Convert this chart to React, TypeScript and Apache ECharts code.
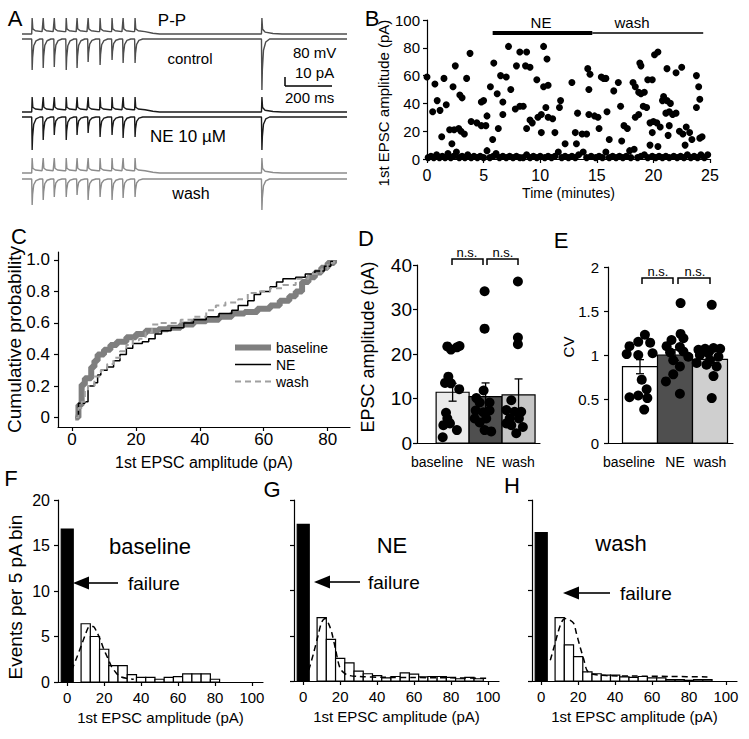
import React, { useEffect, useRef } from "react";
import * as echarts from "echarts";

const FONT = "'Liberation Sans', Arial, Helvetica, sans-serif";

// ---------------- Panel A: example traces ----------------
const stimTimesMs = [44, 93, 142, 195, 243, 292, 345, 398, 447, 500, 1062];
const traceEndMs = 1440;
const ppAmpControl = [16, 16, 16, 16, 16, 16, 16, 16, 16, 16, 16];
const ppAmpNE = [15, 15, 15, 15, 15, 15, 15, 15, 15, 15, 15];
const ppAmpWash = [15, 15, 15, 15, 15, 15, 15, 15, 15, 15, 15];
const epscAmpControl = [31, 29, 28, 31, 29, 23, 26, 21, 24, 24, 51];
const epscAmpNE = [33, 23, 18, 23, 18, 16, 20, 18, 21, 20, 33];
const epscAmpWash = [26, 21, 18, 18, 16, 21, 18, 21, 19, 18, 31];
const epscShape = [[-1, 0], [1, -1], [3, -0.6], [8, -0.22], [18, -0.06], [35, 0]];
const ppTrainShape = [[-1, 0.15], [1, 1], [4, 0.32], [15, 0.2], [45, 0.15]];
const ppTailShape = [[80, 0.05], [110, 0]];
const ppSingleShape = [[-1, 0], [1, 1], [4, 0.3], [15, 0.12], [50, 0.03], [90, 0]];

// ---------------- Panel B: time course ----------------
const bHits = [
  [0, 59], [0.5, 34], [0.7, 54], [0.9, 42], [1.15, 35], [1.3, 16], [1.5, 58], [1.7, 39], [2.0, 21], [2.2, 11],
  [2.3, 52], [2.5, 67], [2.4, 21], [2.8, 22], [2.9, 46], [3.1, 44], [3.0, 20], [3.3, 18], [3.5, 58], [3.8, 76],
  [3.9, 27], [4.4, 26], [4.8, 24], [5.2, 24], [4.8, 41], [5.0, 42], [5.3, 31], [5.6, 52], [5.8, 14], [5.9, 69],
  [6.2, 47], [6.3, 22], [6.5, 60], [6.7, 32], [6.7, 41], [7.0, 59], [7.2, 81], [7.4, 50], [7.8, 36], [8.2, 38],
  [8.5, 38], [7.9, 67], [8.2, 77], [8.8, 77], [8.7, 67], [9.1, 66], [8.8, 22], [9.1, 28], [9.3, 26], [9.7, 57],
  [9.8, 30], [10.1, 32], [10.1, 19], [10.3, 81], [10.3, 52], [10.6, 72], [10.7, 53], [10.5, 37], [10.7, 30], [11.1, 29],
  [11.3, 19], [11.7, 37], [11.8, 42], [12.2, 11], [12.8, 55], [13.1, 19], [13.2, 11], [13.3, 33], [13.7, 18], [14.1, 18],
  [14.2, 65], [14.4, 61], [14.3, 50], [14.3, 32], [14.8, 31], [15.1, 30], [15.2, 22], [15.4, 59], [15.6, 58], [15.8, 58],
  [15.9, 34], [16.1, 14], [16.5, 49], [16.9, 55], [17.1, 38], [17.2, 13], [17.4, 24], [17.7, 22], [17.9, 6], [18.2, 55],
  [18.4, 30], [18.7, 32], [18.4, 52], [18.7, 48], [18.9, 47], [19.2, 48], [18.8, 69], [18.9, 67], [19.1, 38], [19.4, 37],
  [19.5, 57], [19.7, 26], [19.7, 10], [20.1, 75], [20.4, 77], [19.9, 57], [19.9, 19], [20.0, 27], [20.3, 26], [20.6, 23],
  [20.4, 9], [20.8, 42], [20.9, 45], [21.2, 42], [21.5, 40], [21.2, 65], [21.1, 33], [21.4, 34], [21.7, 32], [22.0, 33],
  [21.4, 24], [21.3, 17], [22.0, 62], [22.5, 66], [22.3, 20], [22.6, 18], [22.8, 10], [22.9, 23], [23.2, 19], [23.4, 14],
  [23.8, 60], [24.0, 52], [24.1, 43], [23.8, 37], [24.1, 15], [24.3, 16]
];
const bFailures = [
  [0.1, 1], [0.35, 2], [0.6, 1], [0.85, 3], [1.1, 1], [1.35, 2], [1.6, 1], [1.85, 4], [2.1, 1], [2.35, 2],
  [2.6, 5], [2.85, 1], [3.1, 2], [3.35, 1], [3.6, 3], [3.9, 1], [4.15, 2], [4.45, 1], [4.7, 2], [5.0, 1],
  [5.3, 6], [5.55, 1], [5.85, 2], [6.1, 4], [6.4, 1], [6.7, 2], [7.0, 1], [7.3, 2], [7.6, 1], [7.9, 2],
  [8.2, 1], [8.5, 1], [8.8, 3], [9.1, 1], [9.4, 2], [9.7, 1], [10.0, 2], [10.4, 1], [10.7, 2], [11.0, 1],
  [11.3, 2], [11.6, 5], [11.9, 1], [12.2, 2], [12.5, 1], [12.8, 2], [13.1, 1], [13.4, 3], [13.8, 5], [14.1, 1],
  [14.5, 2], [14.9, 1], [15.2, 2], [15.5, 1], [15.8, 5], [16.1, 1], [16.4, 2], [16.7, 1], [17.0, 2], [17.3, 1],
  [17.6, 2], [18.0, 1], [18.3, 7], [18.6, 1], [18.9, 2], [19.2, 3], [19.5, 1], [19.9, 2], [20.2, 1], [20.5, 2],
  [20.8, 1], [21.1, 2], [21.4, 1], [21.8, 2], [22.1, 1], [22.4, 2], [22.7, 1], [23.0, 3], [23.3, 1], [23.6, 2],
  [23.9, 1], [24.2, 3], [24.5, 1], [24.8, 3]
];
const neWindowMin = [5.8, 14.6];
const washWindowMin = [14.6, 24.4];
const drugBarLevel = 91;

// ---------------- Panel C: cumulative distributions ----------------
const cdfBaseline = [
  [1, 0], [2, 0.08], [3, 0.21], [4, 0.25], [6, 0.32], [7, 0.36], [8, 0.4], [10, 0.43], [12, 0.46], [14, 0.48],
  [17, 0.51], [20, 0.53], [23, 0.55], [27, 0.56], [30, 0.57], [34, 0.59], [38, 0.61], [42, 0.62], [46, 0.64], [50, 0.66],
  [54, 0.67], [58, 0.69], [62, 0.71], [65, 0.74], [68, 0.77], [70, 0.8], [72, 0.86], [74, 0.89], [76, 0.92], [78, 0.95],
  [80, 0.98], [82, 1.0]
];
const cdfNE = [
  [1, 0], [2, 0.09], [4, 0.1], [5, 0.2], [7, 0.22], [8, 0.27], [9, 0.3], [11, 0.32], [13, 0.36], [15, 0.4],
  [17, 0.44], [19, 0.47], [22, 0.48], [24, 0.5], [26, 0.53], [28, 0.55], [31, 0.57], [35, 0.6], [38, 0.62], [42, 0.64],
  [46, 0.66], [50, 0.68], [52, 0.71], [55, 0.74], [57, 0.78], [59, 0.8], [62, 0.83], [64, 0.86], [66, 0.88], [70, 0.89],
  [73, 0.91], [76, 0.93], [79, 0.96], [81, 0.99], [82, 1.0]
];
const cdfWash = [
  [1, 0], [2, 0.06], [3, 0.1], [4, 0.17], [5, 0.2], [7, 0.26], [9, 0.3], [11, 0.34], [13, 0.38], [15, 0.42],
  [17, 0.46], [19, 0.49], [21, 0.5], [23, 0.54], [25, 0.59], [27, 0.6], [30, 0.6], [34, 0.62], [38, 0.64], [42, 0.68],
  [45, 0.71], [48, 0.73], [52, 0.75], [55, 0.79], [58, 0.8], [62, 0.82], [66, 0.84], [70, 0.88], [74, 0.91], [78, 0.94],
  [80, 0.98], [82, 1.0]
];
const cTicks = [0, 0.2, 0.4, 0.6, 0.8, 1.0];
const ampTicks = [0, 20, 40, 60, 80];

// ---------------- Panels D & E ----------------
const conditions = ["baseline", "NE", "wash"];
const dMeans = [11.4, 10.4, 10.8];
const dSem = [2.0, 3.1, 3.6];
const dBaseline = [21.7, 21.0, 21.5, 21.8, 14.9, 13.5, 13.4, 12.1, 6.8, 5.5, 4.4, 4.0, 2.9, 1.3];
const dBaselineDx = [-0.16, -0.05, 0.13, 0.21, -0.13, -0.23, -0.05, 0.2, -0.2, -0.16, -0.08, -0.28, 0.13, -0.3];
const dNE = [34.1, 25.7, 11.8, 10.1, 9.1, 9.1, 7.3, 6.9, 7.3, 5.5, 5.5, 4.6, 2.9, 2.6];
const dNEDx = [-0.03, -0.03, -0.06, -0.28, -0.18, 0.12, -0.3, -0.07, 0.12, -0.33, 0.02, -0.18, -0.03, 0.17];
const dWash = [36.3, 23.7, 22.2, 9.6, 7.4, 7.0, 7.0, 5.5, 5.5, 4.4, 4.0, 3.6, 2.2];
const dWashDx = [-0.02, -0.02, -0.02, -0.22, -0.37, -0.12, 0.08, -0.27, 0.01, -0.37, -0.22, 0.13, -0.07];

const eMeans = [0.867, 1.0, 0.951];
const eSem = [0.08, 0.06, 0.07];
const eBaseline = [1.23, 1.15, 1.14, 1.1, 1.02, 1.01, 1.0, 0.61, 0.54, 0.52, 0.51, 0.38, 0.72];
const eBaselineDx = [0.14, -0.05, 0.29, -0.3, 0.36, -0.38, -0.05, 0.19, -0.05, -0.3, 0.21, 0.12, 0.05];
const eNE = [1.59, 1.24, 1.17, 1.19, 1.1, 1.09, 1.03, 1.04, 0.98, 0.94, 0.87, 0.78, 0.7, 0.56];
const eNEDx = [0.16, 0.16, -0.1, 0.24, -0.24, 0.14, -0.14, 0.24, 0.38, -0.05, 0.14, -0.05, -0.26, 0.14];
const eWash = [1.57, 1.07, 1.08, 1.07, 1.06, 1.02, 1.0, 0.98, 0.94, 0.91, 0.89, 0.87, 0.76, 0.51];
const eWashDx = [0.05, -0.14, 0.1, 0.29, -0.33, -0.05, -0.29, 0.24, 0, -0.38, -0.1, 0.19, 0.1, 0.05];

// ---------------- Panels F, G, H: histograms ----------------
const binWidthPa = 5;
const failureWidthPa = 6.5;
const histCentersF = [10, 15, 20, 25, 30, 35, 40, 45, 50, 55, 60, 65, 70, 75, 80];
const histCountsF = [6.4, 5.0, 3.6, 1.8, 1.8, 0.8, 0.5, 0.5, 0.3, 0.5, 0.6, 0.9, 0.9, 0.9, 0.3];
const histCentersG = [10, 15, 20, 25, 30, 35, 40, 45, 50, 55, 60, 65, 70, 75, 80, 85, 90, 95];
const histCountsG = [7.0, 4.6, 2.5, 2.0, 1.1, 0.8, 0.6, 0.35, 0.5, 0.9, 0.75, 0.45, 0.5, 0.5, 0.4, 0.25, 0.4, 0.25];
const histCentersH = [10, 15, 20, 25, 30, 35, 40, 45, 50, 55, 60, 65, 70, 75, 80, 85, 90];
const histCountsH = [7.0, 4.0, 2.7, 1.0, 0.8, 0.65, 0.65, 0.45, 0.4, 0.5, 0.35, 0.35, 0.15, 0.15, 0.08, 0.15, 0.15];
const failuresF = 16.8;
const failuresG = 17.3;
const failuresH = 16.4;
const fitF = [[2.4, 1.3], [5, 2.6], [7.8, 4.1], [10, 5.3], [12, 6.1], [14, 6.1], [16, 5.5], [18, 4.6], [19.6, 3.7], [22, 2.6], [24, 1.7], [26.5, 1.0], [28.6, 0.6], [32, 0.4], [36, 0.3]];
const fitG = [[3, 1.2], [5.5, 3.0], [8, 5.0], [10, 6.5], [12, 6.9], [14, 6.2], [15.5, 5.3], [17.5, 3.5], [20, 1.4], [23.5, 0.7], [30, 0.5], [45, 0.4], [60, 0.38], [80, 0.35], [100, 0.3]];
const fitH = [[4.9, 2.3], [7, 3.8], [9, 5.3], [11, 6.5], [13, 6.9], [15, 6.8], [17.5, 6.4], [19, 5.3], [21, 3.8], [23, 2.4], [24.7, 1.2], [27, 0.8], [35, 0.6], [50, 0.55], [70, 0.5], [90, 0.45]];
const histTicks = [0, 20, 40, 60, 80, 100];

// ---------------- helpers ----------------
function buildEpsc(amps: number[]) {
  const pts: number[][] = [[0, 0]];
  stimTimesMs.forEach((t, i) => epscShape.forEach(([dt, f]) => pts.push([t + dt, amps[i] * f])));
  pts.push([traceEndMs, 0]);
  return pts;
}
function buildPP(amps: number[]) {
  const pts: number[][] = [[0, 0]];
  const n = stimTimesMs.length;
  for (let i = 0; i < n - 1; i++) {
    const t = stimTimesMs[i];
    const a = amps[i];
    ppTrainShape.forEach(([dt, f], k) => pts.push([t + dt, i === 0 && k === 0 ? 0 : a * f]));
  }
  const tl = stimTimesMs[n - 2];
  ppTailShape.forEach(([dt, f]) => pts.push([tl + dt, amps[n - 2] * f]));
  const ts = stimTimesMs[n - 1];
  ppSingleShape.forEach(([dt, f]) => pts.push([ts + dt, amps[n - 1] * f]));
  pts.push([traceEndMs, 0]);
  return pts;
}

const AX = { color: "#000", width: 1.2 };

function rectItem(halfW: number, fills: string[] | string) {
  return (params: any, api: any) => {
    const c = api.value(0);
    const h = api.value(1);
    const a = api.coord([c - halfW, 0]);
    const b = api.coord([c + halfW, h]);
    const fill = Array.isArray(fills) ? fills[params.dataIndex] : fills;
    return {
      type: "rect",
      shape: { x: a[0], y: b[1], width: b[0] - a[0], height: a[1] - b[1] },
      style: { fill, stroke: "#000", lineWidth: 1.2 },
    };
  };
}
function errItem(cap: number) {
  return (params: any, api: any) => {
    const x = api.value(0);
    const m = api.value(1);
    const s = api.value(2);
    const top = api.coord([x, m + s]);
    const bot = api.coord([x, m - s]);
    const st = { stroke: "#000", lineWidth: 1.3 };
    return {
      type: "group",
      children: [
        { type: "line", shape: { x1: top[0], y1: top[1], x2: bot[0], y2: bot[1] }, style: st },
        { type: "line", shape: { x1: top[0] - cap, y1: top[1], x2: top[0] + cap, y2: top[1] }, style: st },
        { type: "line", shape: { x1: bot[0] - cap, y1: bot[1], x2: bot[0] + cap, y2: bot[1] }, style: st },
      ],
    };
  };
}
function jitter(vals: number[], dx: number[], base: number) {
  return vals.map((v, k) => [base + dx[k], v]);
}
function txt(text: string, x: number, y: number, size: number, align = "center") {
  return {
    type: "text",
    x,
    y,
    silent: true,
    style: {
      text,
      font: `${size}px ${FONT}`,
      fill: "#000",
      textAlign: align,
      align,
      textVerticalAlign: "middle",
      verticalAlign: "middle",
    },
  };
}
function seg(x1: number, y1: number, x2: number, y2: number, w = 1.4) {
  return { type: "line", silent: true, shape: { x1, y1, x2, y2 }, style: { stroke: "#000", lineWidth: w } };
}
function bracket(x1: number, x2: number, top: number, bottom: number) {
  return {
    type: "polyline",
    silent: true,
    shape: { points: [[x1, bottom], [x1, top], [x2, top], [x2, bottom]] },
    style: { stroke: "#000", lineWidth: 1.5, fill: null },
  };
}
function arrow(tipX: number, baseX: number, endX: number, y: number) {
  return [
    seg(baseX, y, endX, y, 1.6),
    {
      type: "polygon",
      silent: true,
      shape: { points: [[tipX, y], [baseX, y - 6.5], [baseX, y + 6.5]] },
      style: { fill: "#000" },
    },
  ];
}

function buildOption() {
  const gridDefs = [
    { left: 22, top: 14, width: 325, height: 24 },
    { left: 22, top: 35, width: 325, height: 60 },
    { left: 22, top: 92, width: 325, height: 24 },
    { left: 22, top: 113, width: 325, height: 42 },
    { left: 22, top: 153, width: 325, height: 24 },
    { left: 22, top: 175, width: 325, height: 40 },
    { left: 427, top: 20, width: 283, height: 139 },
    { left: 58, top: 252, width: 292, height: 175 },
    { left: 417, top: 265, width: 123, height: 178 },
    { left: 608, top: 267, width: 125, height: 176 },
    { left: 58, top: 500, width: 205, height: 182 },
    { left: 294, top: 500, width: 205, height: 181 },
    { left: 532, top: 500, width: 205, height: 181 },
  ];
  const grid = gridDefs.map((g) => ({ ...g, outerBoundsMode: "none", containLabel: false }));
  const traceY = [[-4, 20], [-56, 4], [-4, 20], [-38, 4], [-4, 20], [-36, 4]];

  const xAxis: any[] = [];
  const yAxis: any[] = [];
  for (let i = 0; i < 6; i++) {
    xAxis.push({ type: "value", gridIndex: i, min: 0, max: traceEndMs, show: false });
    yAxis.push({ type: "value", gridIndex: i, min: traceY[i][0], max: traceY[i][1], show: false });
  }
  const base = () => ({
    axisLine: { show: true, onZero: false, lineStyle: AX },
    splitLine: { show: false },
    nameMoveOverlap: false,
  });
  // B
  xAxis.push({
    ...base(), type: "value", gridIndex: 6, min: 0, max: 25, interval: 5,
    axisTick: { show: true, length: 4, lineStyle: AX },
    axisLabel: { color: "#000", fontSize: 16, fontFamily: FONT, margin: 8 },
    name: "Time (minutes)", nameLocation: "middle", nameGap: 27,
    nameTextStyle: { color: "#000", fontSize: 14, fontFamily: FONT },
  });
  yAxis.push({
    ...base(), type: "value", gridIndex: 6, min: 0, max: 100, interval: 20,
    axisTick: { show: true, length: 4, lineStyle: AX },
    axisLabel: { color: "#000", fontSize: 15, fontFamily: FONT, margin: 7 },
    name: "1st EPSC amplitude (pA)", nameLocation: "middle", nameGap: 36,
    nameTextStyle: { color: "#000", fontSize: 15, fontFamily: FONT, padding: [0, 27, 0, 0] },
  });
  // C
  xAxis.push({
    ...base(), type: "value", gridIndex: 7, min: -4.4, max: 87,
    axisTick: { show: true, length: 4, lineStyle: AX, customValues: ampTicks },
    axisLabel: { color: "#000", fontSize: 17, fontFamily: FONT, margin: 4, customValues: ampTicks },
    name: "1st EPSC amplitude (pA)", nameLocation: "middle", nameGap: 27,
    nameTextStyle: { color: "#000", fontSize: 16, fontFamily: FONT },
  });
  yAxis.push({
    ...base(), type: "value", gridIndex: 7, min: -0.06, max: 1.05,
    axisTick: { show: true, length: 4, lineStyle: AX, customValues: cTicks },
    axisLabel: {
      color: "#000", fontSize: 17, fontFamily: FONT, margin: 8, customValues: cTicks,
      formatter: (v: number) => (v === 0 ? "0" : v.toFixed(1)),
    },
    name: "Cumulative probability", nameLocation: "middle", nameGap: 34,
    nameTextStyle: { color: "#000", fontSize: 19, fontFamily: FONT },
  });
  // D
  const catFormatter = (v: number) => {
    const i = Math.round(v);
    return i === 0 ? "{s|" + conditions[0] + "}" : conditions[i];
  };
  xAxis.push({
    ...base(), type: "value", gridIndex: 8, min: -1.08, max: 2.65,
    axisTick: { show: false },
    axisLabel: {
      color: "#000", fontSize: 14, fontFamily: FONT, margin: 12, customValues: [0, 1, 2],
      formatter: catFormatter,
      rich: { s: { color: "#000", fontSize: 14, fontFamily: FONT, padding: [0, 31, 0, 0] } },
    },
  });
  yAxis.push({
    ...base(), type: "value", gridIndex: 8, min: 0, max: 40, interval: 10,
    axisTick: { show: true, length: 4, lineStyle: AX },
    axisLabel: { color: "#000", fontSize: 19, fontFamily: FONT, margin: 5 },
    name: "EPSC amplitude (pA)", nameLocation: "middle", nameGap: 40,
    nameTextStyle: { color: "#000", fontSize: 18, fontFamily: FONT, padding: [0, 0, 0, 14] },
  });
  // E
  xAxis.push({
    ...base(), type: "value", gridIndex: 9, min: -0.914, max: 2.657,
    axisTick: { show: false },
    axisLabel: {
      color: "#000", fontSize: 14, fontFamily: FONT, margin: 12, customValues: [0, 1, 2],
      formatter: catFormatter,
      rich: { s: { color: "#000", fontSize: 14, fontFamily: FONT, padding: [0, 22, 0, 0] } },
    },
  });
  yAxis.push({
    ...base(), type: "value", gridIndex: 9, min: 0, max: 2, interval: 0.5,
    axisTick: { show: true, length: 4, lineStyle: AX },
    axisLabel: { color: "#000", fontSize: 15, fontFamily: FONT, margin: 9 },
    name: "CV", nameLocation: "middle", nameGap: 32,
    nameTextStyle: { color: "#000", fontSize: 15, fontFamily: FONT, padding: [0, 0, 0, 16] },
  });
  // F, G, H
  for (let k = 0; k < 3; k++) {
    const gi = 10 + k;
    xAxis.push({
      ...base(), type: "value", gridIndex: gi, min: -5, max: 106,
      axisTick: { show: true, length: 4, lineStyle: AX, customValues: histTicks },
      axisLabel: { color: "#000", fontSize: 15, fontFamily: FONT, margin: 8, customValues: histTicks },
      name: "1st EPSC amplitude (pA)", nameLocation: "middle", nameGap: 28,
      nameTextStyle: { color: "#000", fontSize: 15, fontFamily: FONT },
    });
    yAxis.push({
      ...base(), type: "value", gridIndex: gi, min: 0, max: 20, interval: 5,
      axisTick: { show: true, length: 4, lineStyle: AX },
      axisLabel: { show: k === 0, color: "#000", fontSize: 16, fontFamily: FONT, margin: 8 },
      ...(k === 0
        ? {
            name: "Events per 5 pA bin", nameLocation: "middle", nameGap: 33,
            nameTextStyle: { color: "#000", fontSize: 19, fontFamily: FONT, padding: [0, 12, 0, 0] },
          }
        : {}),
    });
  }

  const traceColors = ["#4d4d4d", "#1a1a1a", "#8c8c8c"];
  const traceData = [
    buildPP(ppAmpControl), buildEpsc(epscAmpControl),
    buildPP(ppAmpNE), buildEpsc(epscAmpNE),
    buildPP(ppAmpWash), buildEpsc(epscAmpWash),
  ];
  const series: any[] = traceData.map((d, i) => ({
    type: "line", xAxisIndex: i, yAxisIndex: i, data: d, symbol: "none", silent: true,
    lineStyle: { color: traceColors[Math.floor(i / 2)], width: 1.4 },
  }));

  const dot = { color: "#000", opacity: 1 };
  // B
  series.push({
    type: "scatter", xAxisIndex: 6, yAxisIndex: 6, data: bFailures, symbolSize: 7,
    itemStyle: dot, silent: true, clip: false,
  });
  series.push({
    type: "scatter", xAxisIndex: 6, yAxisIndex: 6, data: bHits, symbolSize: 7,
    itemStyle: dot, silent: true, clip: false,
    markLine: {
      silent: true, symbol: ["none", "none"], label: { show: false }, animation: false,
      lineStyle: { type: "solid", color: "#000" },
      data: [
        [
          { coord: [neWindowMin[0], drugBarLevel], lineStyle: { width: 4, type: "solid", color: "#000" } },
          { coord: [neWindowMin[1], drugBarLevel], lineStyle: { width: 4, type: "solid", color: "#000" } },
        ],
        [
          { coord: [washWindowMin[0], drugBarLevel], lineStyle: { width: 1.6, type: "solid", color: "#000" } },
          { coord: [washWindowMin[1], drugBarLevel], lineStyle: { width: 1.6, type: "solid", color: "#000" } },
        ],
      ],
    },
  });

  // C
  series.push({
    name: "baseline", type: "line", step: "end", xAxisIndex: 7, yAxisIndex: 7, data: cdfBaseline,
    symbol: "none", lineStyle: { color: "#7f7f7f", width: 6 }, itemStyle: { color: "#7f7f7f" },
  });
  series.push({
    name: "NE", type: "line", step: "end", xAxisIndex: 7, yAxisIndex: 7, data: cdfNE,
    symbol: "none", lineStyle: { color: "#000", width: 1.5 }, itemStyle: { color: "#000" },
  });
  series.push({
    name: "wash", type: "line", step: "end", xAxisIndex: 7, yAxisIndex: 7, data: cdfWash,
    symbol: "none", lineStyle: { color: "#a0a0a0", width: 2, type: [6, 4] }, itemStyle: { color: "#a0a0a0" },
  });

  // D
  series.push({
    type: "custom", xAxisIndex: 8, yAxisIndex: 8, z: 2, silent: true,
    renderItem: rectItem(0.5, ["#ebebeb", "#4f4f4f", "#c6c6c6"]),
    data: dMeans.map((m, i) => [i, m]), encode: { x: 0, y: 1 },
  });
  series.push({
    type: "custom", xAxisIndex: 8, yAxisIndex: 8, z: 3, silent: true,
    renderItem: errItem(4),
    data: dMeans.map((m, i) => [i, m, dSem[i]]), encode: { x: 0, y: 1 },
  });
  series.push({
    type: "scatter", xAxisIndex: 8, yAxisIndex: 8, z: 4, silent: true, symbolSize: 10,
    itemStyle: dot,
    data: [...jitter(dBaseline, dBaselineDx, 0), ...jitter(dNE, dNEDx, 1), ...jitter(dWash, dWashDx, 2)],
  });
  // E
  series.push({
    type: "custom", xAxisIndex: 9, yAxisIndex: 9, z: 2, silent: true,
    renderItem: rectItem(0.5, ["#ffffff", "#4f4f4f", "#cfcfcf"]),
    data: eMeans.map((m, i) => [i, m]), encode: { x: 0, y: 1 },
  });
  series.push({
    type: "custom", xAxisIndex: 9, yAxisIndex: 9, z: 3, silent: true,
    renderItem: errItem(4),
    data: eMeans.map((m, i) => [i, m, eSem[i]]), encode: { x: 0, y: 1 },
  });
  series.push({
    type: "scatter", xAxisIndex: 9, yAxisIndex: 9, z: 4, silent: true, symbolSize: 10,
    itemStyle: dot,
    data: [...jitter(eBaseline, eBaselineDx, 0), ...jitter(eNE, eNEDx, 1), ...jitter(eWash, eWashDx, 2)],
  });

  // F, G, H
  const hists = [
    [histCentersF, histCountsF, failuresF, fitF],
    [histCentersG, histCountsG, failuresG, fitG],
    [histCentersH, histCountsH, failuresH, fitH],
  ] as any[];
  hists.forEach(([centers, counts, fails, fit], k) => {
    const ai = 10 + k;
    series.push({
      type: "custom", xAxisIndex: ai, yAxisIndex: ai, z: 2, silent: true,
      renderItem: rectItem(binWidthPa / 2, "#ffffff"),
      data: centers.map((c: number, i: number) => [c, counts[i]]), encode: { x: 0, y: 1 },
    });
    series.push({
      type: "custom", xAxisIndex: ai, yAxisIndex: ai, z: 2, silent: true,
      renderItem: rectItem(failureWidthPa / 2, "#000000"),
      data: [[0, fails]], encode: { x: 0, y: 1 },
    });
    series.push({
      type: "line", xAxisIndex: ai, yAxisIndex: ai, z: 3, silent: true, data: fit, symbol: "none",
      smooth: 0.3, lineStyle: { color: "#000", width: 1.5, type: [6, 4] },
    });
  });

  const graphics: any[] = [
    // panel letters
    txt("A", 15, 18, 22), txt("B", 372, 18, 22), txt("C", 19, 236, 22), txt("D", 366, 238, 22),
    txt("E", 561, 240, 22), txt("F", 11, 478, 22), txt("G", 272, 489, 22), txt("H", 512, 485, 22),
    // panel A labels
    txt("P-P", 172, 20, 17), txt("control", 190, 58, 15), txt("NE 10 µM", 188, 136, 17), txt("wash", 191, 193, 16),
    txt("80 mV", 293, 52, 15, "left"), txt("10 pA", 295, 72, 15, "left"), txt("200 ms", 285, 97, 15, "left"),
    seg(285, 77, 285, 86, 1.5), seg(285, 86, 332, 86, 1.5),
    // panel B labels
    txt("NE", 541, 22, 15), txt("wash", 632, 22, 15),
    // D & E significance
    bracket(452, 483, 259, 265), bracket(487, 518, 259, 265),
    txt("n.s.", 467, 252, 13), txt("n.s.", 503, 252, 13),
    bracket(642, 673, 278, 284), bracket(678, 710, 278, 284),
    txt("n.s.", 658, 271, 13), txt("n.s.", 695, 271, 13),
    // histogram labels
    txt("baseline", 150, 546, 22), txt("failure", 128, 583, 19, "left"),
    txt("NE", 392, 545, 22), txt("failure", 368, 582, 19, "left"),
    txt("wash", 621, 543, 22), txt("failure", 620, 593, 19, "left"),
    ...arrow(73, 89, 118, 583),
    ...arrow(314, 330, 360, 582),
    ...arrow(563, 579, 610, 593),
  ];

  const hideSymbol = { opacity: 0 };
  return {
    animation: false,
    backgroundColor: "#ffffff",
    textStyle: { fontFamily: FONT, color: "#000" },
    grid,
    xAxis,
    yAxis,
    series,
    legend: {
      left: 227, top: 335, orient: "vertical", itemWidth: 36, itemHeight: 12, itemGap: 2,
      selectedMode: false, textStyle: { color: "#000", fontSize: 14, fontFamily: FONT, lineHeight: 15 },
      data: [
        { name: "baseline", lineStyle: { width: 6 }, itemStyle: hideSymbol },
        { name: "NE", lineStyle: { width: 1.5 }, itemStyle: hideSymbol },
        { name: "wash", lineStyle: { width: 2 }, itemStyle: hideSymbol },
      ],
    },
    graphic: { elements: graphics },
  };
}

export default function App() {
  const ref = useRef<HTMLDivElement>(null);
  useEffect(() => {
    if (!ref.current) return;
    const chart = echarts.init(ref.current, null, { renderer: "svg" });
    chart.setOption(buildOption() as any);
    return () => chart.dispose();
  }, []);
  return (
    <div
      ref={ref}
      style={{ position: "fixed", left: 0, top: 0, width: 749, height: 739, background: "#fff" }}
    />
  );
}
